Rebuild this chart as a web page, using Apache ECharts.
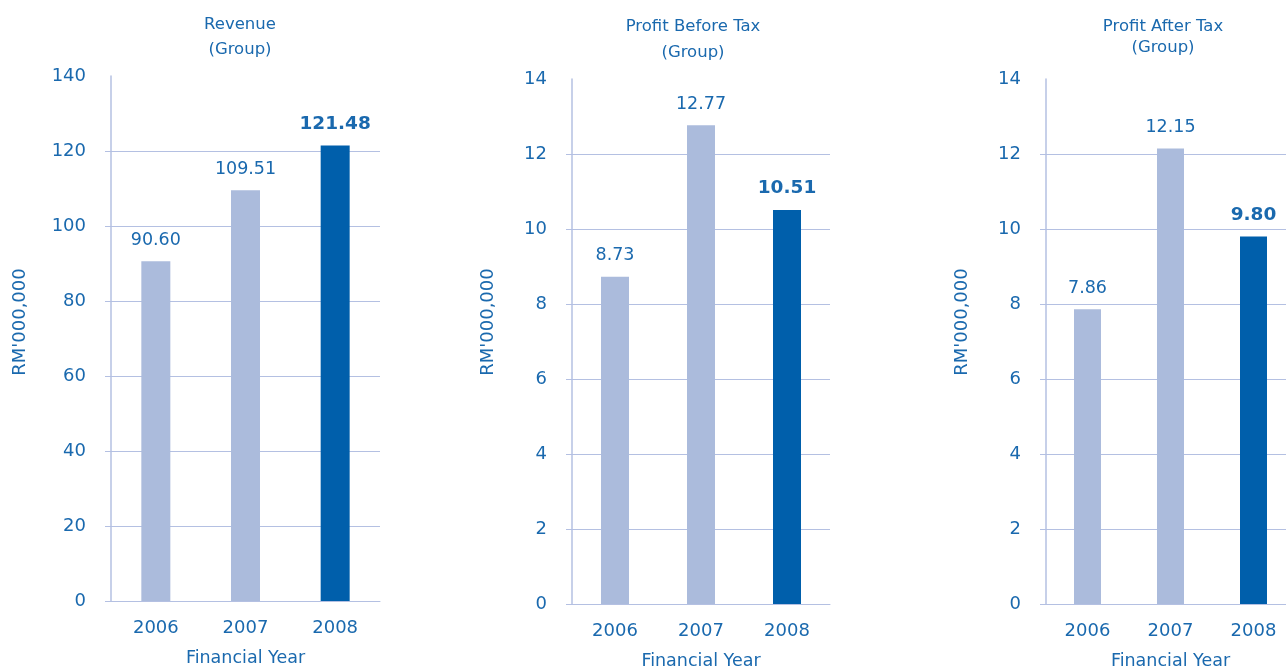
<!DOCTYPE html>
<html>
<head>
<meta charset="utf-8">
<script src="https://cdn.jsdelivr.net/npm/echarts@6/dist/echarts.min.js"></script>
<style>
  html, body { margin: 0; padding: 0; background: #fff; }
  #main { width: 1286px; height: 668px; }
</style>
</head>
<body>
<div id="main"></div>
<script>
const years = ['2006', '2007', '2008'];
const revenue = [90.60, 109.51, 121.48];
const profitBeforeTax = [8.73, 12.77, 10.51];
const profitAfterTax = [7.86, 12.15, 9.80];
const revenueTicks = [0, 20, 40, 60, 80, 100, 120, 140];
const profitTicks = [0, 2, 4, 6, 8, 10, 12, 14];
const titles = ['Revenue\n(Group)', 'Profit Before Tax\n(Group)', 'Profit After Tax\n(Group)'];

const textColor = '#1a69ae';
const lightBar = '#abbbdc';
const darkBar = '#005fab';
const gridColor = '#b4c0e2';
const font = 'DejaVu Sans';

// pixel layout of the three panels
const panels = [
  { left: 111, top: 76, width: 269, barWidth: 29, titleX: 240, titleTop: 12, lh: 25, nameX: 20, data: revenue, ticks: revenueTicks },
  { left: 572, top: 79, width: 258, barWidth: 28, titleX: 693, titleTop: 14, lh: 26, nameX: 488, data: profitBeforeTax, ticks: profitTicks },
  { left: 1046, top: 79, width: 249, barWidth: 27, titleX: 1163, titleTop: 16, lh: 21, nameX: 962, data: profitAfterTax, ticks: profitTicks }
];
const gridHeight = 525;

const chart = echarts.init(document.getElementById('main'));

const option = {
  backgroundColor: '#fff',
  animation: false,
  title: panels.map((p, i) => ({
    text: titles[i],
    left: p.titleX,
    top: p.titleTop,
    textAlign: 'center',
    padding: 0,
    textStyle: { color: textColor, fontFamily: font, fontSize: 16.5, fontWeight: 'normal', lineHeight: p.lh }
  })),
  grid: panels.map(p => ({
    left: p.left, top: p.top, width: p.width, height: gridHeight,
    containLabel: false, outerBoundsMode: 'none'
  })),
  xAxis: panels.map((p, i) => ({
    type: 'category',
    gridIndex: i,
    data: years,
    name: 'Financial Year',
    nameLocation: 'middle',
    nameGap: 48,
    nameTextStyle: { color: textColor, fontFamily: font, fontSize: 17.5 },
    axisLine: { show: true, lineStyle: { color: gridColor, width: 1 } },
    axisTick: { show: false },
    axisLabel: { color: textColor, fontFamily: font, fontSize: 18, margin: 18 }
  })),
  yAxis: panels.map((p, i) => ({
    type: 'value',
    gridIndex: i,
    min: 0,
    max: p.ticks[p.ticks.length - 1],
    interval: p.ticks[1] - p.ticks[0],
    axisLine: { show: true, lineStyle: { color: gridColor, width: 1.5 } },
    axisTick: { show: true, length: 6, lineStyle: { color: gridColor }, customValues: p.ticks.slice(0, -1) },
    axisLabel: { color: textColor, fontFamily: font, fontSize: 18, margin: 25 },
    splitLine: {
      show: true,
      lineStyle: { color: p.ticks.map((t, k) => (k === p.ticks.length - 1 ? 'rgba(0,0,0,0)' : gridColor)), width: 1 }
    }
  })),
  series: panels.map((p, i) => ({
    type: 'bar',
    xAxisIndex: i,
    yAxisIndex: i,
    barWidth: p.barWidth,
    data: p.data.map((v, k) => {
      const last = k === p.data.length - 1;
      return {
        value: v,
        itemStyle: { color: last ? darkBar : lightBar },
        label: last ? { fontWeight: 'bold', fontSize: 18.5, distance: 12 } : {}
      };
    }),
    label: {
      show: true,
      position: 'top',
      distance: 12,
      color: textColor,
      fontFamily: font,
      fontSize: 17.5,
      formatter: params => params.value.toFixed(2)
    }
  })),
  graphic: panels.map(p => ({
    type: 'text',
    x: p.nameX,
    y: 322,
    rotation: Math.PI / 2,
    style: {
      text: "RM'000,000",
      fill: textColor,
      font: '18px "' + font + '"',
      textAlign: 'center',
      textVerticalAlign: 'middle'
    }
  }))
};

chart.setOption(option);
</script>
</body>
</html>
